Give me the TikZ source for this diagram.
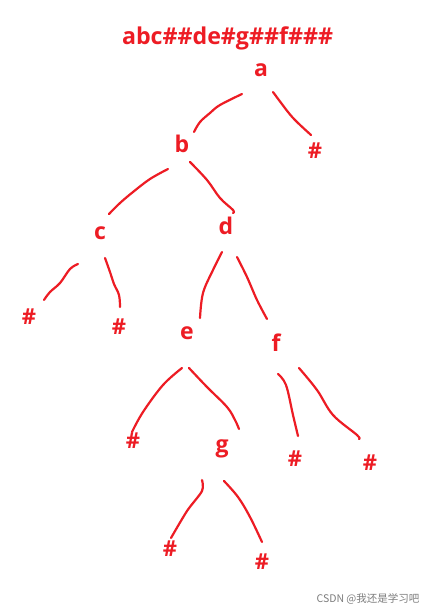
\documentclass[tikz,border=0pt]{standalone}
\usepackage{fontspec}
\setmainfont{Open Sans}
\newfontfamily\cjkfont{Noto Sans CJK SC}
\definecolor{paintred}{RGB}{237,28,36}
\definecolor{wmgray}{RGB}{125,125,125}
\tikzset{
  lbl/.style={inner sep=0pt, text=paintred, font=\fontsize{23}{23}\selectfont\bfseries},
  nil/.style={inner sep=0pt, text=paintred, font=\fontsize{22}{22}\selectfont\bfseries},
  stroke/.style={draw=paintred, line width=2.2pt, line cap=round, line join=round},
}
\begin{document}
\begin{tikzpicture}[x=1pt,y=-1pt]
\useasboundingbox[fill=white] (0,0) rectangle (437,614);
\node[inner sep=0pt, text=paintred, font=\fontsize{23.2}{23}\selectfont\bfseries] (title) at (227.5,38.5) {abc\#\#de\#g\#\#f\#\#\#};
\node[lbl] (a) at (261,70) {a};
\node[lbl] (b) at (182,144) {b};
\node[nil] (an) at (315,151) {\#};
\node[lbl] (c) at (100,233) {c};
\node[lbl] (d) at (226,226) {d};
\node[nil] (cl) at (29,317) {\#};
\node[nil] (cr) at (119,327) {\#};
\node[lbl] (e) at (187,333) {e};
\node[lbl] (f) at (276,343) {f};
\node[nil] (el) at (133,441) {\#};
\node[lbl] (g) at (222,449) {g};
\node[nil] (fl) at (295,459) {\#};
\node[nil] (fr) at (370,463) {\#};
\node[nil] (gl) at (170,549) {\#};
\node[nil] (gr) at (262,562) {\#};
\node[inner sep=0pt, text=wmgray, font=\cjkfont\fontsize{10.5}{10.5}\selectfont] (wm) at (368,599) {CSDN @我还是学习吧};
% hand-drawn strokes
\draw[stroke] plot[smooth, tension=0.6] coordinates {(242,94) (220,105) (210,113) (200,122) (194,132)};
\draw[stroke] plot[smooth, tension=0.6] coordinates {(273,92) (288,112) (297,122) (311,135)};
\draw[stroke] plot[smooth, tension=0.6] coordinates {(168,169) (150,179) (133,192) (120,203) (109,214)};
\draw[stroke] plot[smooth, tension=0.6] coordinates {(190,162) (207,180) (220,198) (233,210) (233,213)};
\draw[stroke] plot[smooth, tension=0.6] coordinates {(78,264) (70,269) (60,283) (50,292) (44,300)};
\draw[stroke] plot[smooth, tension=0.6] coordinates {(105,258) (110,272) (114,284) (119,295) (120,307)};
\draw[stroke] plot[smooth, tension=0.6] coordinates {(222,252) (213,270) (203,293) (200,318)};
\draw[stroke] plot[smooth, tension=0.6] coordinates {(237,257) (247,277) (257,300) (267,319)};
\draw[stroke] plot[smooth, tension=0.6] coordinates {(182,368) (163,385) (143,412) (132,432)};
\draw[stroke] plot[smooth, tension=0.6] coordinates {(189,368) (207,387) (227,407) (235,420) (239,429)};
\draw[stroke] plot[smooth, tension=0.6] coordinates {(278,374) (286,385) (293,415) (298,436)};
\draw[stroke] plot[smooth, tension=0.6] coordinates {(299,368) (317,390) (333,415) (357,435) (359,439)};
\draw[stroke] plot[smooth, tension=0.5] coordinates {(202,480) (202,491) (187,511) (171,538)};
\draw[stroke] plot[smooth, tension=0.6] coordinates {(224,481) (238,497) (250,517) (262,542)};
\end{tikzpicture}
\end{document}
